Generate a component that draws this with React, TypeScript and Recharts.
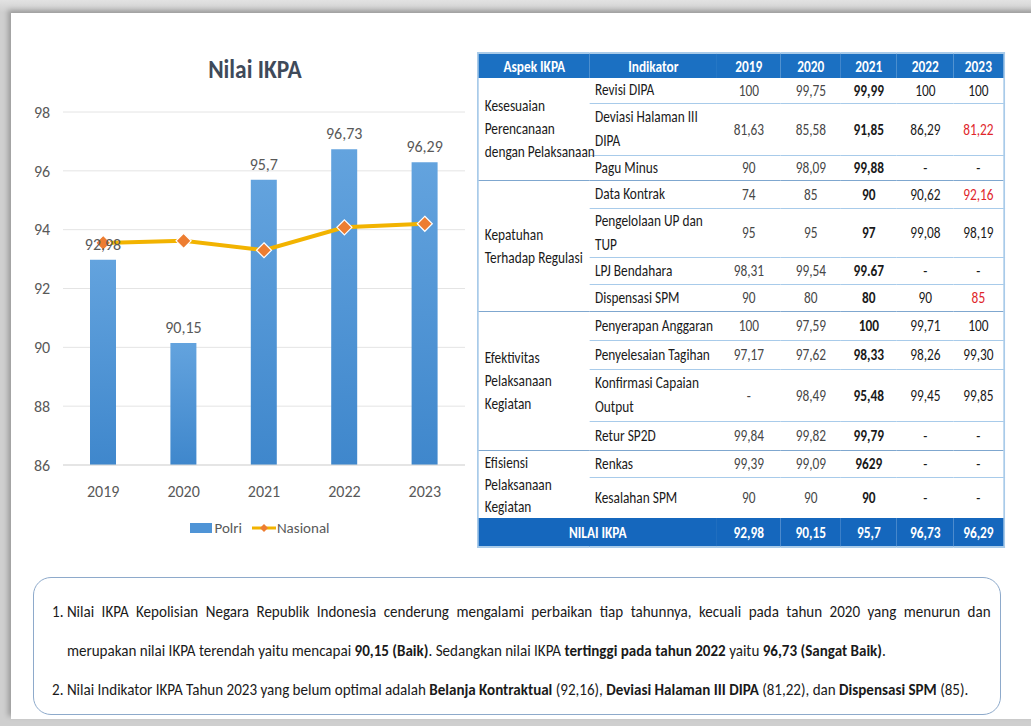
import React from 'react';
import {
  ComposedChart,
  Bar,
  Line,
  XAxis,
  YAxis,
  CartesianGrid,
  LabelList,
} from 'recharts';

const years = ['2019', '2020', '2021', '2022', '2023'];
const polri = [92.98, 90.15, 95.7, 96.73, 96.29];
const nasional = [93.55, 93.62, 93.3, 94.08, 94.2];
const yTicks = [86, 88, 90, 92, 94, 96, 98];

// table: aspek groups (lines as in the slide), indikator, values per year
const aspekGroups = [
  'Kesesuaian\nPerencanaan\ndengan Pelaksanaan',
  'Kepatuhan\nTerhadap Regulasi',
  'Efektivitas\nPelaksanaan\nKegiatan',
  'Efisiensi\nPelaksanaan\nKegiatan',
];
const groupSizes = [3, 4, 4, 2];
const indikator = [
  'Revisi DIPA',
  'Deviasi Halaman III\nDIPA',
  'Pagu Minus',
  'Data Kontrak',
  'Pengelolaan UP dan\nTUP',
  'LPJ Bendahara',
  'Dispensasi SPM',
  'Penyerapan Anggaran',
  'Penyelesaian Tagihan',
  'Konfirmasi Capaian\nOutput',
  'Retur SP2D',
  'Renkas',
  'Kesalahan SPM',
];
const rowHeights = [25, 52, 25, 28, 49, 27, 27, 29, 29, 52, 29, 27, 41];
const v2019 = ['100', '81,63', '90', '74', '95', '98,31', '90', '100', '97,17', '-', '99,84', '99,39', '90'];
const v2020 = ['99,75', '85,58', '98,09', '85', '95', '99,54', '80', '97,59', '97,62', '98,49', '99,82', '99,09', '90'];
const v2021 = ['99,99', '91,85', '99,88', '90', '97', '99.67', '80', '100', '98,33', '95,48', '99,79', '9629', '90'];
const v2022 = ['100', '86,29', '-', '90,62', '99,08', '-', '90', '99,71', '98,26', '99,45', '-', '-', '-'];
const v2023 = ['100', '81,22', '-', '92,16', '98,19', '-', '85', '100', '99,30', '99,85', '-', '-', '-'];
const redCells2023 = [1, 3, 6];
const nilaiIkpa = ['92,98', '90,15', '95,7', '96,73', '96,29'];

const FONT = "Carlito, 'Open Sans', sans-serif";
const SQUEEZE = 0.86; // slide text is narrower than Carlito

const chartData = years.map((y, i) => ({ year: y, polri: polri[i], nasional: nasional[i] }));

const Diamond = (props: any) => {
  const { cx, cy } = props;
  if (cx == null || cy == null) return null;
  const r = 7.5;
  return (
    <path
      d={`M${cx},${cy - r} L${cx + r},${cy} L${cx},${cy + r} L${cx - r},${cy} Z`}
      fill="#ED7D31"
      stroke="#ffffff"
      strokeWidth={1.2}
    />
  );
};

const NilaiChart = () => (
  <div style={{ position: 'absolute', left: 0, top: 0, width: 480, height: 560 }}>
    <div
      style={{
        position: 'absolute',
        left: 0,
        width: 510,
        top: 53,
        textAlign: 'center',
        fontSize: 26,
        fontWeight: 'bold',
        color: '#3f4a5a',
      }}
    >
      <span style={{ display: 'inline-block', transform: 'scaleX(0.9)' }}>Nilai IKPA</span>
    </div>
    <ComposedChart
      width={480}
      height={560}
      data={chartData}
      margin={{ top: 112, right: 15, bottom: 65, left: 23 }}
      style={{ fontFamily: FONT }}
    >
      <defs>
        <linearGradient id="barGrad" x1="0" y1="0" x2="0" y2="1">
          <stop offset="0%" stopColor="#63a3de" />
          <stop offset="100%" stopColor="#3f87cc" />
        </linearGradient>
      </defs>
      <CartesianGrid vertical={false} stroke="#e4e4e4" />
      <XAxis
        dataKey="year"
        axisLine={{ stroke: '#d9d9d9' }}
        tickLine={false}
        tick={{ fill: '#595959', fontSize: 16 }}
        height={30}
        tickMargin={15}
      />
      <YAxis
        domain={[86, 98]}
        ticks={yTicks}
        axisLine={false}
        tickLine={false}
        tick={{ fill: '#595959', fontSize: 16, textAnchor: 'middle' }}
        width={40}
        tickMargin={15}
      />
      <Bar dataKey="polri" fill="url(#barGrad)" barSize={26} isAnimationActive={false}>
        <LabelList
          dataKey="polri"
          position="top"
          offset={10}
          fill="#595959"
          fontSize={16}
          formatter={(v: any) => String(v).replace('.', ',')}
        />
      </Bar>
      <Line
        dataKey="nasional"
        stroke="#F2B300"
        strokeWidth={4}
        dot={<Diamond />}
        activeDot={false}
        isAnimationActive={false}
      />
    </ComposedChart>
    <div
      style={{
        position: 'absolute',
        top: 519,
        left: 0,
        width: 520,
        display: 'flex',
        justifyContent: 'center',
        alignItems: 'center',
        fontSize: 15,
        color: '#595959',
      }}
    >
      <span style={{ display: 'inline-block', width: 22, height: 10, background: '#4f94d6', marginRight: 2 }} />
      <span style={{ marginRight: 10 }}>Polri</span>
      <svg width={24} height={12} style={{ marginRight: 1 }}>
        <line x1={0} y1={6} x2={24} y2={6} stroke="#F2B300" strokeWidth={3} />
        <path d="M12,2 L16,6 L12,10 L8,6 Z" fill="#ED7D31" />
      </svg>
      <span>Nasional</span>
    </div>
  </div>
);

const cellBase: React.CSSProperties = {
  padding: 0,
  textAlign: 'center',
  verticalAlign: 'middle',
};

const IkpaTable = () => {
  const valueCols = [v2019, v2020, v2021, v2022, v2023];
  let idx = 0;
  const rows: React.ReactNode[] = [];
  aspekGroups.forEach((g, gi) => {
    const span = groupSizes[gi];
    for (let k = 0; k < span; k++) {
      const i = idx + k;
      const firstInGroup = k === 0;
      const topLine = firstInGroup
        ? gi === 0
          ? 'none'
          : '1.5px solid #7fa7cf'
        : '1.5px solid #a8cbea';
      rows.push(
        <tr key={i} style={{ height: rowHeights[i] }}>
          {firstInGroup && (
            <td
              rowSpan={span}
              style={{
                ...cellBase,
                textAlign: 'left',
                paddingLeft: 7,
                paddingTop: gi === 3 ? 1 : 0,
                borderTop: topLine,
                lineHeight: gi === 3 ? '22px' : '23px',
                whiteSpace: 'pre',
                overflow: 'visible',
                position: 'relative',
                zIndex: 1,
              }}
            >
              {g}
            </td>
          )}
          <td
            style={{
              ...cellBase,
              textAlign: 'left',
              paddingLeft: 6,
              borderTop: topLine,
              lineHeight: '24px',
              whiteSpace: 'pre',
            }}
          >
            {indikator[i]}
          </td>
          {valueCols.map((col, ci) => (
            <td
              key={ci}
              style={{
                ...cellBase,
                borderTop: topLine,
                fontWeight: ci === 2 ? 'bold' : 'normal',
                color:
                  ci === 4 && redCells2023.includes(i)
                    ? '#e0262b'
                    : ci < 2
                    ? '#474747'
                    : '#1a1a1a',
              }}
            >
              {col[i]}
            </td>
          ))}
        </tr>
      );
    }
    idx += span;
  });

  const colW = [112, 127, 64, 60, 56, 57, 50].map((w) => w / SQUEEZE);

  return (
    <table
      style={{
        position: 'absolute',
        left: 477,
        top: 52,
        width: colW.reduce((a, b) => a + b, 0),
        transform: `scaleX(${SQUEEZE})`,
        transformOrigin: 'left top',
        borderCollapse: 'collapse',
        tableLayout: 'fixed',
        fontSize: 15.5,
        color: '#1a1a1a',
        border: '2px solid #a9cbe9',
        fontFamily: FONT,
      }}
    >
      <colgroup>
        {colW.map((w, i) => (
          <col key={i} style={{ width: w }} />
        ))}
      </colgroup>
      <thead>
        <tr style={{ height: 25, background: '#1b70c2', color: '#ffffff', fontWeight: 'bold' }}>
          <th style={cellBase}>Aspek IKPA</th>
          <th style={cellBase}>Indikator</th>
          {years.map((y) => (
            <th key={y} style={cellBase}>
              {y}
            </th>
          ))}
        </tr>
      </thead>
      <tbody>
        {rows}
        <tr style={{ height: 29, background: '#1567bd', color: '#ffffff', fontWeight: 'bold' }}>
          <td colSpan={2} style={cellBase}>
            NILAI IKPA
          </td>
          {nilaiIkpa.map((v, i) => (
            <td key={i} style={cellBase}>
              {v}
            </td>
          ))}
        </tr>
      </tbody>
    </table>
  );
};

const NOTE_SQ = 0.94;

const NoteBox = () => (
  <div
    style={{
      position: 'absolute',
      left: 33,
      top: 577,
      width: 968,
      height: 138,
      border: '1.5px solid #8eaacb',
      borderRadius: 18,
      boxSizing: 'border-box',
      color: '#1a1a1a',
      fontFamily: FONT,
    }}
  >
    <div
      style={{
        width: 965 / NOTE_SQ,
        transform: `scaleX(${NOTE_SQ})`,
        transformOrigin: 'left top',
        fontSize: 16,
      }}
    >
      <ol style={{ margin: 0, padding: '14px 9px 0 35px', lineHeight: '39px' }}>
        <li style={{ textAlign: 'justify' }}>
          Nilai IKPA Kepolisian Negara Republik Indonesia cenderung mengalami perbaikan tiap tahunnya, kecuali pada
          tahun 2020 yang menurun dan merupakan nilai IKPA terendah yaitu mencapai <b>90,15 (Baik)</b>. Sedangkan
          nilai IKPA <b>tertinggi pada tahun 2022</b> yaitu <b>96,73 (Sangat Baik)</b>.
        </li>
        <li>
          Nilai Indikator IKPA Tahun 2023 yang belum optimal adalah <b>Belanja Kontraktual</b> (92,16),{' '}
          <b>Deviasi Halaman III DIPA</b> (81,22), dan <b>Dispensasi SPM</b> (85).
        </li>
      </ol>
    </div>
  </div>
);

export default function App() {
  return (
    <div
      style={{
        position: 'absolute',
        left: 0,
        top: 0,
        width: 1031,
        height: 726,
        overflow: 'hidden',
        background: 'linear-gradient(180deg, #e2e2e2 0px, #cfcfcf 12px)',
        fontFamily: FONT,
      }}
    >
      <div
        style={{
          position: 'absolute',
          left: 11,
          top: 13,
          width: 1031,
          height: 706,
          background: '#ffffff',
          boxShadow: '-3px -3px 5px rgba(0,0,0,0.25)',
        }}
      />
      <NilaiChart />
      <IkpaTable />
      <NoteBox />
    </div>
  );
}
